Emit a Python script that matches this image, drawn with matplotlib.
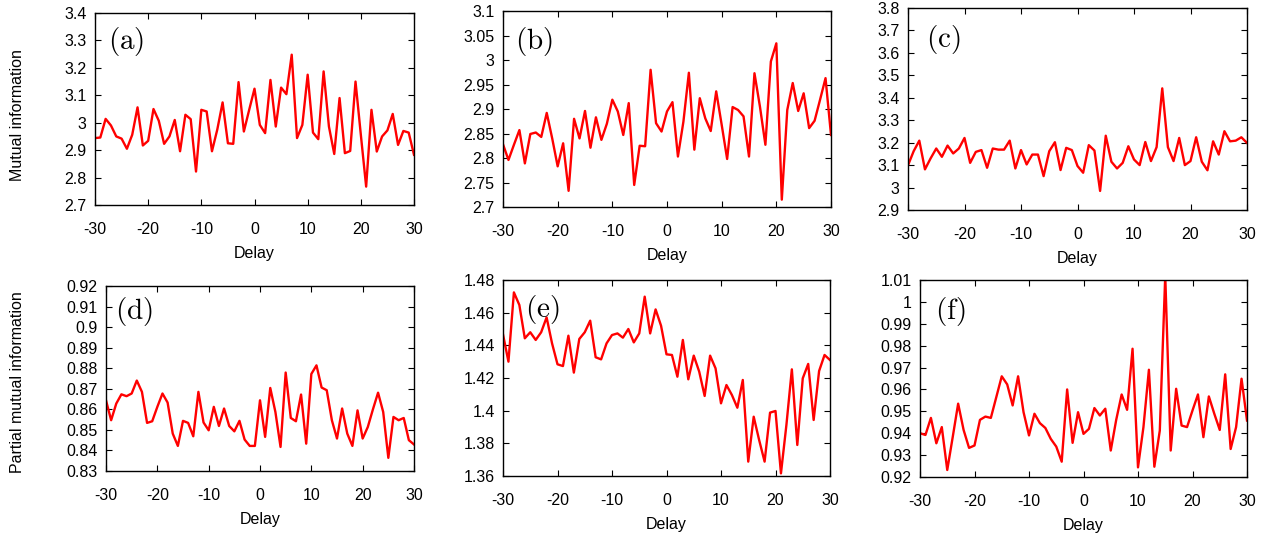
import matplotlib
matplotlib.use("Agg")
import matplotlib.pyplot as plt
import numpy as np
from matplotlib.ticker import FuncFormatter

plt.rcParams['font.family'] = ['Liberation Sans', 'DejaVu Sans']
plt.rcParams['axes.unicode_minus'] = False
plt.rcParams['mathtext.fontset'] = 'cm'

delay = list(range(-30, 31))

mi_a = [2.944, 2.946, 3.014, 2.990, 2.950, 2.942, 2.905, 2.956, 3.056, 2.917,
        2.934, 3.050, 3.007, 2.923, 2.950, 3.010, 2.896, 3.029, 3.013, 2.822,
        3.047, 3.041, 2.896, 2.975, 3.074, 2.925, 2.923, 3.148, 2.968, 3.047,
        3.124, 2.992, 2.962, 3.156, 2.986, 3.128, 3.104, 3.248, 2.944, 2.992,
        3.175, 2.964, 2.940, 3.187, 2.986, 2.886, 3.090, 2.889, 2.897, 3.150,
        2.956, 2.767, 3.047, 2.895, 2.950, 2.972, 3.032, 2.919, 2.970, 2.964,
        2.883]

mi_b = [2.828, 2.796, 2.827, 2.857, 2.789, 2.849, 2.852, 2.843, 2.892, 2.840,
        2.783, 2.830, 2.733, 2.880, 2.840, 2.896, 2.821, 2.883, 2.837, 2.870,
        2.919, 2.895, 2.847, 2.912, 2.745, 2.825, 2.824, 2.980, 2.871, 2.854,
        2.895, 2.914, 2.803, 2.874, 2.974, 2.817, 2.922, 2.881, 2.855, 2.936,
        2.868, 2.798, 2.904, 2.898, 2.885, 2.803, 2.973, 2.905, 2.827, 2.997,
        3.034, 2.715, 2.898, 2.953, 2.896, 2.932, 2.861, 2.876, 2.919, 2.963,
        2.847]

mi_c = [3.099, 3.162, 3.209, 3.081, 3.130, 3.174, 3.137, 3.187, 3.152, 3.174,
        3.221, 3.110, 3.159, 3.167, 3.088, 3.174, 3.169, 3.169, 3.209, 3.085,
        3.167, 3.103, 3.147, 3.147, 3.051, 3.162, 3.202, 3.078, 3.177, 3.167,
        3.096, 3.066, 3.189, 3.165, 2.985, 3.231, 3.115, 3.085, 3.110, 3.184,
        3.125, 3.100, 3.203, 3.118, 3.180, 3.442, 3.180, 3.118, 3.221, 3.100,
        3.118, 3.224, 3.115, 3.077, 3.206, 3.147, 3.251, 3.206, 3.209, 3.224,
        3.199]

pmi_d = [0.8644, 0.8547, 0.8628, 0.8673, 0.8664, 0.8677, 0.8740, 0.8685, 0.8534, 0.8542,
         0.8612, 0.8677, 0.8633, 0.8482, 0.8422, 0.8544, 0.8534, 0.8469, 0.8685, 0.8536,
         0.8498, 0.8612, 0.8519, 0.8604, 0.8519, 0.8493, 0.8544, 0.8453, 0.8422, 0.8422,
         0.8644, 0.8466, 0.8704, 0.8587, 0.8417, 0.8779, 0.8558, 0.8542, 0.8672, 0.8433,
         0.8772, 0.8814, 0.8706, 0.8693, 0.8547, 0.8458, 0.8604, 0.8482, 0.8422, 0.8595,
         0.8458, 0.8514, 0.8600, 0.8681, 0.8587, 0.8364, 0.8563, 0.8547, 0.8558, 0.8450,
         0.8429]

pmi_e = [1.4467, 1.4300, 1.4724, 1.4647, 1.4443, 1.4480, 1.4433, 1.4480, 1.4571, 1.4412,
         1.4284, 1.4273, 1.4459, 1.4233, 1.4439, 1.4480, 1.4551, 1.4327, 1.4314, 1.4412,
         1.4463, 1.4473, 1.4447, 1.4500, 1.4418, 1.4473, 1.4698, 1.4473, 1.4620, 1.4520,
         1.4345, 1.4341, 1.4208, 1.4433, 1.4192, 1.4337, 1.4239, 1.4090, 1.4337, 1.4259,
         1.4045, 1.4157, 1.4096, 1.4018, 1.4188, 1.3688, 1.3963, 1.3820, 1.3688, 1.3988,
         1.3998, 1.3616, 1.3912, 1.4253, 1.3790, 1.4198, 1.4286, 1.3943, 1.4243, 1.4341,
         1.4310]

pmi_f = [0.9400, 0.9392, 0.9470, 0.9354, 0.9428, 0.9232, 0.9382, 0.9535, 0.9415, 0.9333,
         0.9344, 0.9461, 0.9476, 0.9470, 0.9565, 0.9660, 0.9623, 0.9527, 0.9660, 0.9496,
         0.9390, 0.9489, 0.9446, 0.9424, 0.9374, 0.9339, 0.9270, 0.9600, 0.9356, 0.9496,
         0.9397, 0.9420, 0.9515, 0.9481, 0.9512, 0.9321, 0.9461, 0.9577, 0.9507, 0.9786,
         0.9244, 0.9428, 0.9690, 0.9247, 0.9412, 1.0120, 0.9321, 0.9603, 0.9435, 0.9428,
         0.9504, 0.9577, 0.9382, 0.9568, 0.9489, 0.9415, 0.9669, 0.9328, 0.9428, 0.9649,
         0.9458]

panels = [
    # label, data, ylim, yticks, pixel box (left, top, right, bottom), label offset px
    ("(a)", mi_a, (2.7, 3.4), np.arange(2.7, 3.41, 0.1), (95, 13, 414, 205), (13, 28)),
    ("(b)", mi_b, (2.7, 3.1), np.arange(2.7, 3.101, 0.05), (503, 11, 831, 207), (12, 30)),
    ("(c)", mi_c, (2.9, 3.8), np.arange(2.9, 3.81, 0.1), (908, 8, 1247, 210), (18, 31)),
    ("(d)", pmi_d, (0.83, 0.92), np.arange(0.83, 0.9201, 0.01), (106, 286, 414, 471), (9, 26)),
    ("(e)", pmi_e, (1.36, 1.48), np.arange(1.36, 1.4801, 0.02), (503, 280, 830, 476), (22, 30)),
    ("(f)", pmi_f, (0.92, 1.01), np.arange(0.92, 1.0101, 0.01), (920, 280, 1247, 477), (15, 32)),
]

W, H = 1273, 535
fig = plt.figure(figsize=(W / 100, H / 100), dpi=100)

fmt = FuncFormatter(lambda v, p: "%g" % round(v, 4))

for label, data, ylim, yticks, box, loff in panels:
    l, t, r, b = box
    ax = fig.add_axes([l / W, 1 - b / H, (r - l) / W, (b - t) / H])
    ax.plot(delay, data, color='#ff0000', linewidth=1.7, clip_on=True)
    ax.set_xlim(-30, 30)
    ax.set_ylim(*ylim)
    ax.set_xticks(range(-30, 31, 10))
    ax.set_yticks(yticks)
    ax.yaxis.set_major_formatter(fmt)
    ax.tick_params(direction='in', top=True, right=True, length=4.5, width=0.8,
                   labelsize=11.5, colors='black')
    ax.tick_params(axis='x', pad=12)
    ax.tick_params(axis='y', pad=6)
    for s in ax.spines.values():
        s.set_linewidth(1.0)
    ax.set_xlabel("Delay", fontsize=11.5, labelpad=7)
    ax.text(loff[0] / (r - l), 1 - loff[1] / (b - t), r'$\mathrm{' + label + '}$',
            transform=ax.transAxes, fontsize=21, ha='left', va='center')

fig.text(18 / W, 1 - 115 / H, "Mutual information", rotation=90, ha='center',
         va='center', fontsize=11.5)
fig.text(18 / W, 1 - 382 / H, "Partial mutual information", rotation=90, ha='center',
         va='center', fontsize=11.5)

fig.savefig("out.png", dpi=100)
